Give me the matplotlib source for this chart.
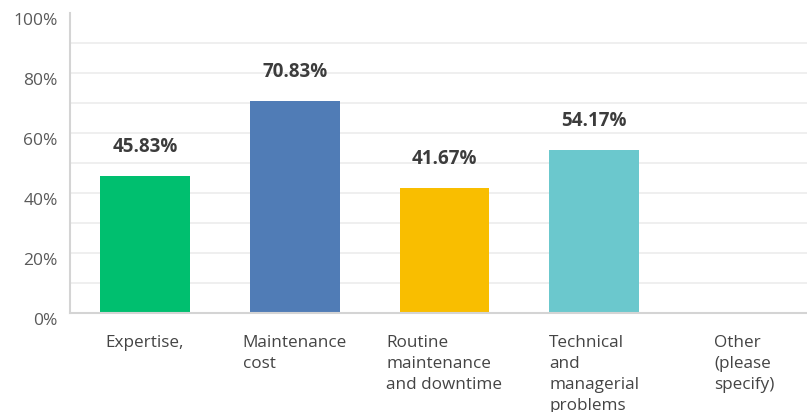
import matplotlib.pyplot as plt
import numpy as np

categories = ["Expertise,", "Maintenance\ncost", "Routine\nmaintenance\nand downtime",
              "Technical\nand\nmanagerial\nproblems", "Other\n(please\nspecify)"]
percent = [45.83, 70.83, 41.67, 54.17, 0.0]
colors = ["#00bf6f", "#507cb6", "#f9be00", "#6bc8cd", "#6bc8cd"]
y_ticks = [0, 20, 40, 60, 80, 100]

fig = plt.figure(figsize=(8.07, 4.12), dpi=100)
ax = fig.add_axes([70 / 807, 99 / 412, 1 - 70 / 807, 300 / 412])

x = np.arange(len(categories))
for g in range(10, 100, 10):
    ax.axhline(g, color="#ececec", lw=1.2, zorder=0)

bars = ax.bar(x[:4], percent[:4], width=0.6, color=colors[:4], zorder=2)
for xi, v in zip(x[:4], percent[:4]):
    ax.annotate(f"{v:.2f}%", (xi, v), xytext=(0, 29), textcoords="offset pixels",
                ha="center", va="center", fontsize=13.5, fontweight="bold",
                color="#3c3c3c", family="Open Sans")

ax.set_xlim(-0.5, 4.42)
ax.set_ylim(0, 100)

# percentage labels sit a little below their gridlines
ax.set_yticks(y_ticks)
ax.set_yticklabels([f"{t}%" for t in y_ticks], fontsize=12.5, color="#5a5a5a",
                   family="Open Sans", va="top")

ax.set_xticks(x)
ax.set_xticklabels(categories, fontsize=12.3, color="#444444", family="Open Sans",
                   multialignment="left", linespacing=1.42)
ax.tick_params(axis="both", length=0)
ax.tick_params(axis="x", pad=16)
ax.tick_params(axis="y", pad=9)

for side in ["top", "right"]:
    ax.spines[side].set_visible(False)
ax.spines["left"].set_color("#d4d4d4")
ax.spines["bottom"].set_color("#d4d4d4")
ax.spines["left"].set_linewidth(1.5)
ax.spines["bottom"].set_linewidth(1.5)

fig.savefig("out.png", dpi=100)
